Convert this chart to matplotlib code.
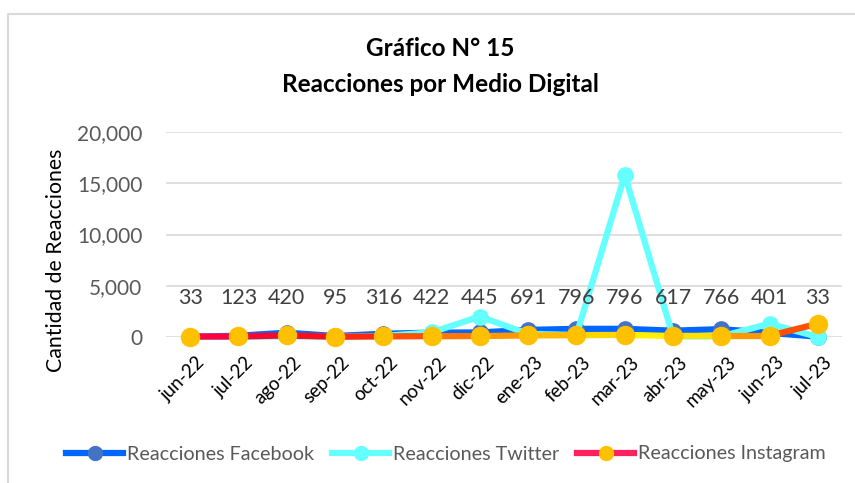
import numpy as np
import matplotlib
matplotlib.use('Agg')
import matplotlib.pyplot as plt
import matplotlib.transforms as mtransforms
from matplotlib.collections import LineCollection
from matplotlib.lines import Line2D

plt.rcParams['font.family'] = ['Lato', 'DejaVu Sans']

# Data
meses = ['jun-22', 'jul-22', 'ago-22', 'sep-22', 'oct-22', 'nov-22', 'dic-22',
         'ene-23', 'feb-23', 'mar-23', 'abr-23', 'may-23', 'jun-23', 'jul-23']
facebook = [33, 123, 420, 95, 316, 422, 445, 691, 796, 796, 617, 766, 401, 33]
twitter = [10, 20, 60, 20, 100, 450, 2000, 300, 200, 15800, 60, 60, 1300, 0]
instagram = [40, 50, 150, 30, 60, 80, 90, 150, 180, 200, 100, 120, 120, 1300]

W, H = 855, 483
fig = plt.figure(figsize=(W / 100, H / 100), dpi=100)

# outer chart frame (cropped on right/bottom)
frame = Line2D([8 / W, 8 / W, 1.0], [0.0, 1 - 14 / H, 1 - 14 / H],
               transform=fig.transFigure, color='#d9d9d9', lw=1.5)
fig.add_artist(frame)

ax = fig.add_axes([166 / W, 1 - 337 / H, 676 / W, 205 / H])
x = np.arange(len(meses))

ax.set_ylim(0, 20000)
ax.set_xlim(-0.5, len(meses) - 0.5)
ax.set_yticks([0, 5000, 10000, 15000, 20000])
ax.set_yticklabels(['0', '5,000', '10,000', '15,000', '20,000'])
ax.grid(axis='y', color='#d9d9d9', lw=1.2)
ax.set_axisbelow(True)
for s in ax.spines.values():
    s.set_visible(False)
ax.tick_params(axis='y', length=0, labelsize=15, labelcolor='#595959', pad=17)
ax.tick_params(axis='x', length=0, pad=12)
ax.set_xticks(x)
ax.set_xticklabels(meses, rotation=45, ha='right', rotation_mode='anchor',
                   fontsize=13.5, color='black')
shift = mtransforms.ScaledTranslation(6 / 100, 0, fig.dpi_scale_trans)
for lab in ax.get_xticklabels():
    lab.set_transform(lab.get_transform() + shift)

# y axis title placed directly in figure coords
fig.text(56 / W, 1 - 260 / H, 'Cantidad de Reacciones', rotation=90,
         ha='center', va='center', fontsize=15.3, color='black')

# Facebook
ax.plot(x, facebook, color='#0066ff', lw=4.5, marker='o', markersize=11,
        markerfacecolor='#4472c4', markeredgecolor='#4472c4', clip_on=False, zorder=3)
# Twitter
ax.plot(x, twitter, color='#66ffff', lw=4.5, marker='o', markersize=11,
        markerfacecolor='#66ffff', markeredgecolor='#66ffff', clip_on=False, zorder=4)

# Instagram with gradient line
pts = np.column_stack([x, instagram]).reshape(-1, 1, 2)
segs = np.concatenate([pts[:-1], pts[1:]], axis=1)
cmap = matplotlib.colors.LinearSegmentedColormap.from_list(
    'ig', ['#ff0040', '#ff1010', '#ff7000', '#ffc000', '#ffff00', '#ff5000'])
lc = LineCollection(segs, cmap=cmap, linewidths=4.5, zorder=5, clip_on=False)
lc.set_array(np.linspace(0, 1, len(segs)))
ax.add_collection(lc)
ax.plot(x, instagram, linestyle='none', marker='o', markersize=13,
        markerfacecolor='#ffc000', markeredgecolor='#ffc000', clip_on=False, zorder=6)

# data labels (Facebook values)
for i, v in enumerate(facebook):
    ax.text(i, 3800, f'{v:,}', ha='center', va='center', fontsize=15.5, color='#404040', zorder=7)

fig.text(440 / W, 1 - 48 / H, 'Gráfico N° 15', ha='center', va='center',
         fontsize=17.5, fontweight='bold')
fig.text(440 / W, 1 - 85 / H, 'Reacciones por Medio Digital', ha='center', va='center',
         fontsize=17.5, fontweight='bold')

handles = [
    Line2D([], [], color='#0066ff', lw=4.5, marker='o', markersize=10,
           markerfacecolor='#4472c4', markeredgecolor='#4472c4'),
    Line2D([], [], color='#66ffff', lw=4.5, marker='o', markersize=10,
           markerfacecolor='#66ffff', markeredgecolor='#66ffff'),
    Line2D([], [], color='#ff2060', lw=4.5, marker='o', markersize=10,
           markerfacecolor='#ffc000', markeredgecolor='#ffc000'),
]
leg = fig.legend(handles, ['Reacciones Facebook', 'Reacciones Twitter', 'Reacciones Instagram'],
                 loc='center', bbox_to_anchor=(446 / W, 1 - 454 / H), ncol=3, frameon=False,
                 fontsize=14.2, handlelength=2.9, handletextpad=0.2, columnspacing=0.9)
for t in leg.get_texts():
    t.set_color('#595959')

fig.savefig('out.png', dpi=100)
